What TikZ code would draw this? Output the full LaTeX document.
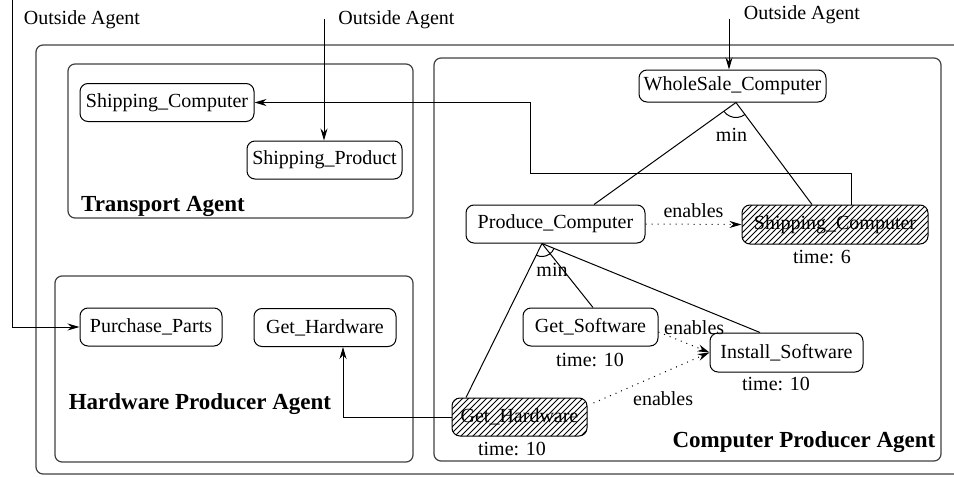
\documentclass[tikz,border=0pt]{standalone}
\usepackage{fontspec}
\setmainfont{Liberation Serif}
\usetikzlibrary{arrows.meta,patterns,positioning}

\tikzset{
  task/.style={draw,rounded corners=4pt,inner sep=0pt,minimum height=19pt,font=\fontsize{10}{12}\selectfont},
  done/.style={task,pattern=north east lines},
  agent/.style={draw=black!75,line width=0.6pt,rounded corners=3.5pt},
  lbl/.style={inner sep=0pt,font=\fontsize{10}{12}\selectfont},
  title/.style={inner sep=0pt,font=\fontsize{11.5}{14}\selectfont\bfseries},
  arr/.style={-{Stealth[length=6pt,width=3.5pt]}},
  enab/.style={arr,dash pattern=on 0.5pt off 2.5pt},
}

\begin{document}
\begin{tikzpicture}[x=0.5pt,y=-0.5pt,line width=0.5pt]
	\useasboundingbox (0,0) rectangle (954,477);

	% agents
	\draw[agent] (954,45) -- (36,45) -- (36,474) -- (954,474);
	\draw[agent] (68,64) rectangle (413,218);
	\draw[agent] (55,276) rectangle (413,462);
	\draw[agent] (434,58) rectangle (941,461);
	\node[title] (tlbl) at (163,206) {Transport Agent};
	\node[title] (hlbl) at (200,404) {Hardware Producer Agent};
	\node[title] (clbl) at (804,442) {Computer Producer Agent};

	% tasks
	\node[task,minimum width=87pt] (shipT) at (167,102.5) {Shipping\_Computer};
	\node[task,minimum width=77.5pt] (shipP) at (324.5,160) {Shipping\_Product};
	\node[task,minimum width=71pt] (purch) at (151,327) {Purchase\_Parts};
	\node[task,minimum width=71pt] (hw1) at (325,327.5) {Get\_Hardware};
	\node[task,minimum width=93.5pt,minimum height=16pt] (whole) at (732.5,86) {WholeSale\_Computer};
	\node[task,minimum width=89.5pt] (produce) at (555.5,224) {Produce\_Computer};
	\node[done,minimum width=93pt,minimum height=19.5pt] (ship2) at (835,224.5) {Shipping\_Computer};
	\node[task,minimum width=67.5pt] (getsw) at (590.5,327) {Get\_Software};
	\node[task,minimum width=76.5pt,minimum height=19.5pt] (install) at (786.5,352.5) {Install\_Software};
	\node[done,minimum width=67.5pt] (hw2) at (519.5,417) {Get\_Hardware};

	\node[lbl] (t6) at (822,257) {time: 6};
	\node[lbl] (tsw) at (590,360) {time: 10};
	\node[lbl] (tis) at (776,384) {time: 10};
	\node[lbl] (thw) at (512,449) {time: 10};

	% outside agents
	\node[lbl] (oa1lbl) at (82,20) {Outside Agent};
	\node[lbl] (oa2lbl) at (396.5,20) {Outside Agent};
	\node[lbl] (oa3lbl) at (802,15) {Outside Agent};
	\coordinate (oa1) at (12,0);
	\coordinate (oa2) at (324,19);
	\coordinate (oa3) at (729,19);
	\draw[arr] (oa1) |- (purch.west);
	\draw[arr] (oa2) -- (oa2 |- shipP.north);
	\draw[arr] (oa3) -- (oa3 |- whole.north);

	% min trees
	\coordinate (wapex) at ([xshift=1.75pt]whole.south);
	\draw (wapex) -- ([xshift=19.25pt]produce.north);
	\draw (wapex) -- ([xshift=-11.5pt]ship2.north);
	\draw (wapex) ++(215.7:7.5pt) arc[start angle=215.7,end angle=306.7,radius=7.5pt];
	\node[lbl] (wmin) at (731.5,135) {min};

	\coordinate (papex) at ([xshift=-6.75pt]produce.south);
	\draw (papex) -- ([xshift=-26.75pt]hw2.north);
	\draw (papex) -- ([xshift=1.25pt]getsw.north);
	\draw (papex) -- ([xshift=-13.25pt]install.north);
	\draw (papex) ++(243.7:6.5pt) arc[start angle=243.7,end angle=337.8,radius=6.5pt];
	\node[lbl] (pmin) at (552,270) {min};

	% enables
	\draw[enab] (produce.east) -- (ship2.west) node[lbl,pos=.5,above=2.85pt] (en1) {enables};
	\draw[enab] ([yshift=-2.5pt]getsw.east) -- (install.west) node[lbl,pos=.7,above=5.8pt] (en2) {enables};
	\draw[enab] ([xshift=3pt,yshift=7pt]hw2.east) -- (install.west) node[lbl,pos=.6,below=9.25pt] (en3) {enables};

	% transfers
	\coordinate (sbend) at (530,173);
	\draw[arr] ([xshift=8pt]ship2.north) |- (sbend) |- (shipT.east);
	\draw[arr] (hw2.west) -| ([xshift=9pt]hw1.south);

\end{tikzpicture}
\end{document}
